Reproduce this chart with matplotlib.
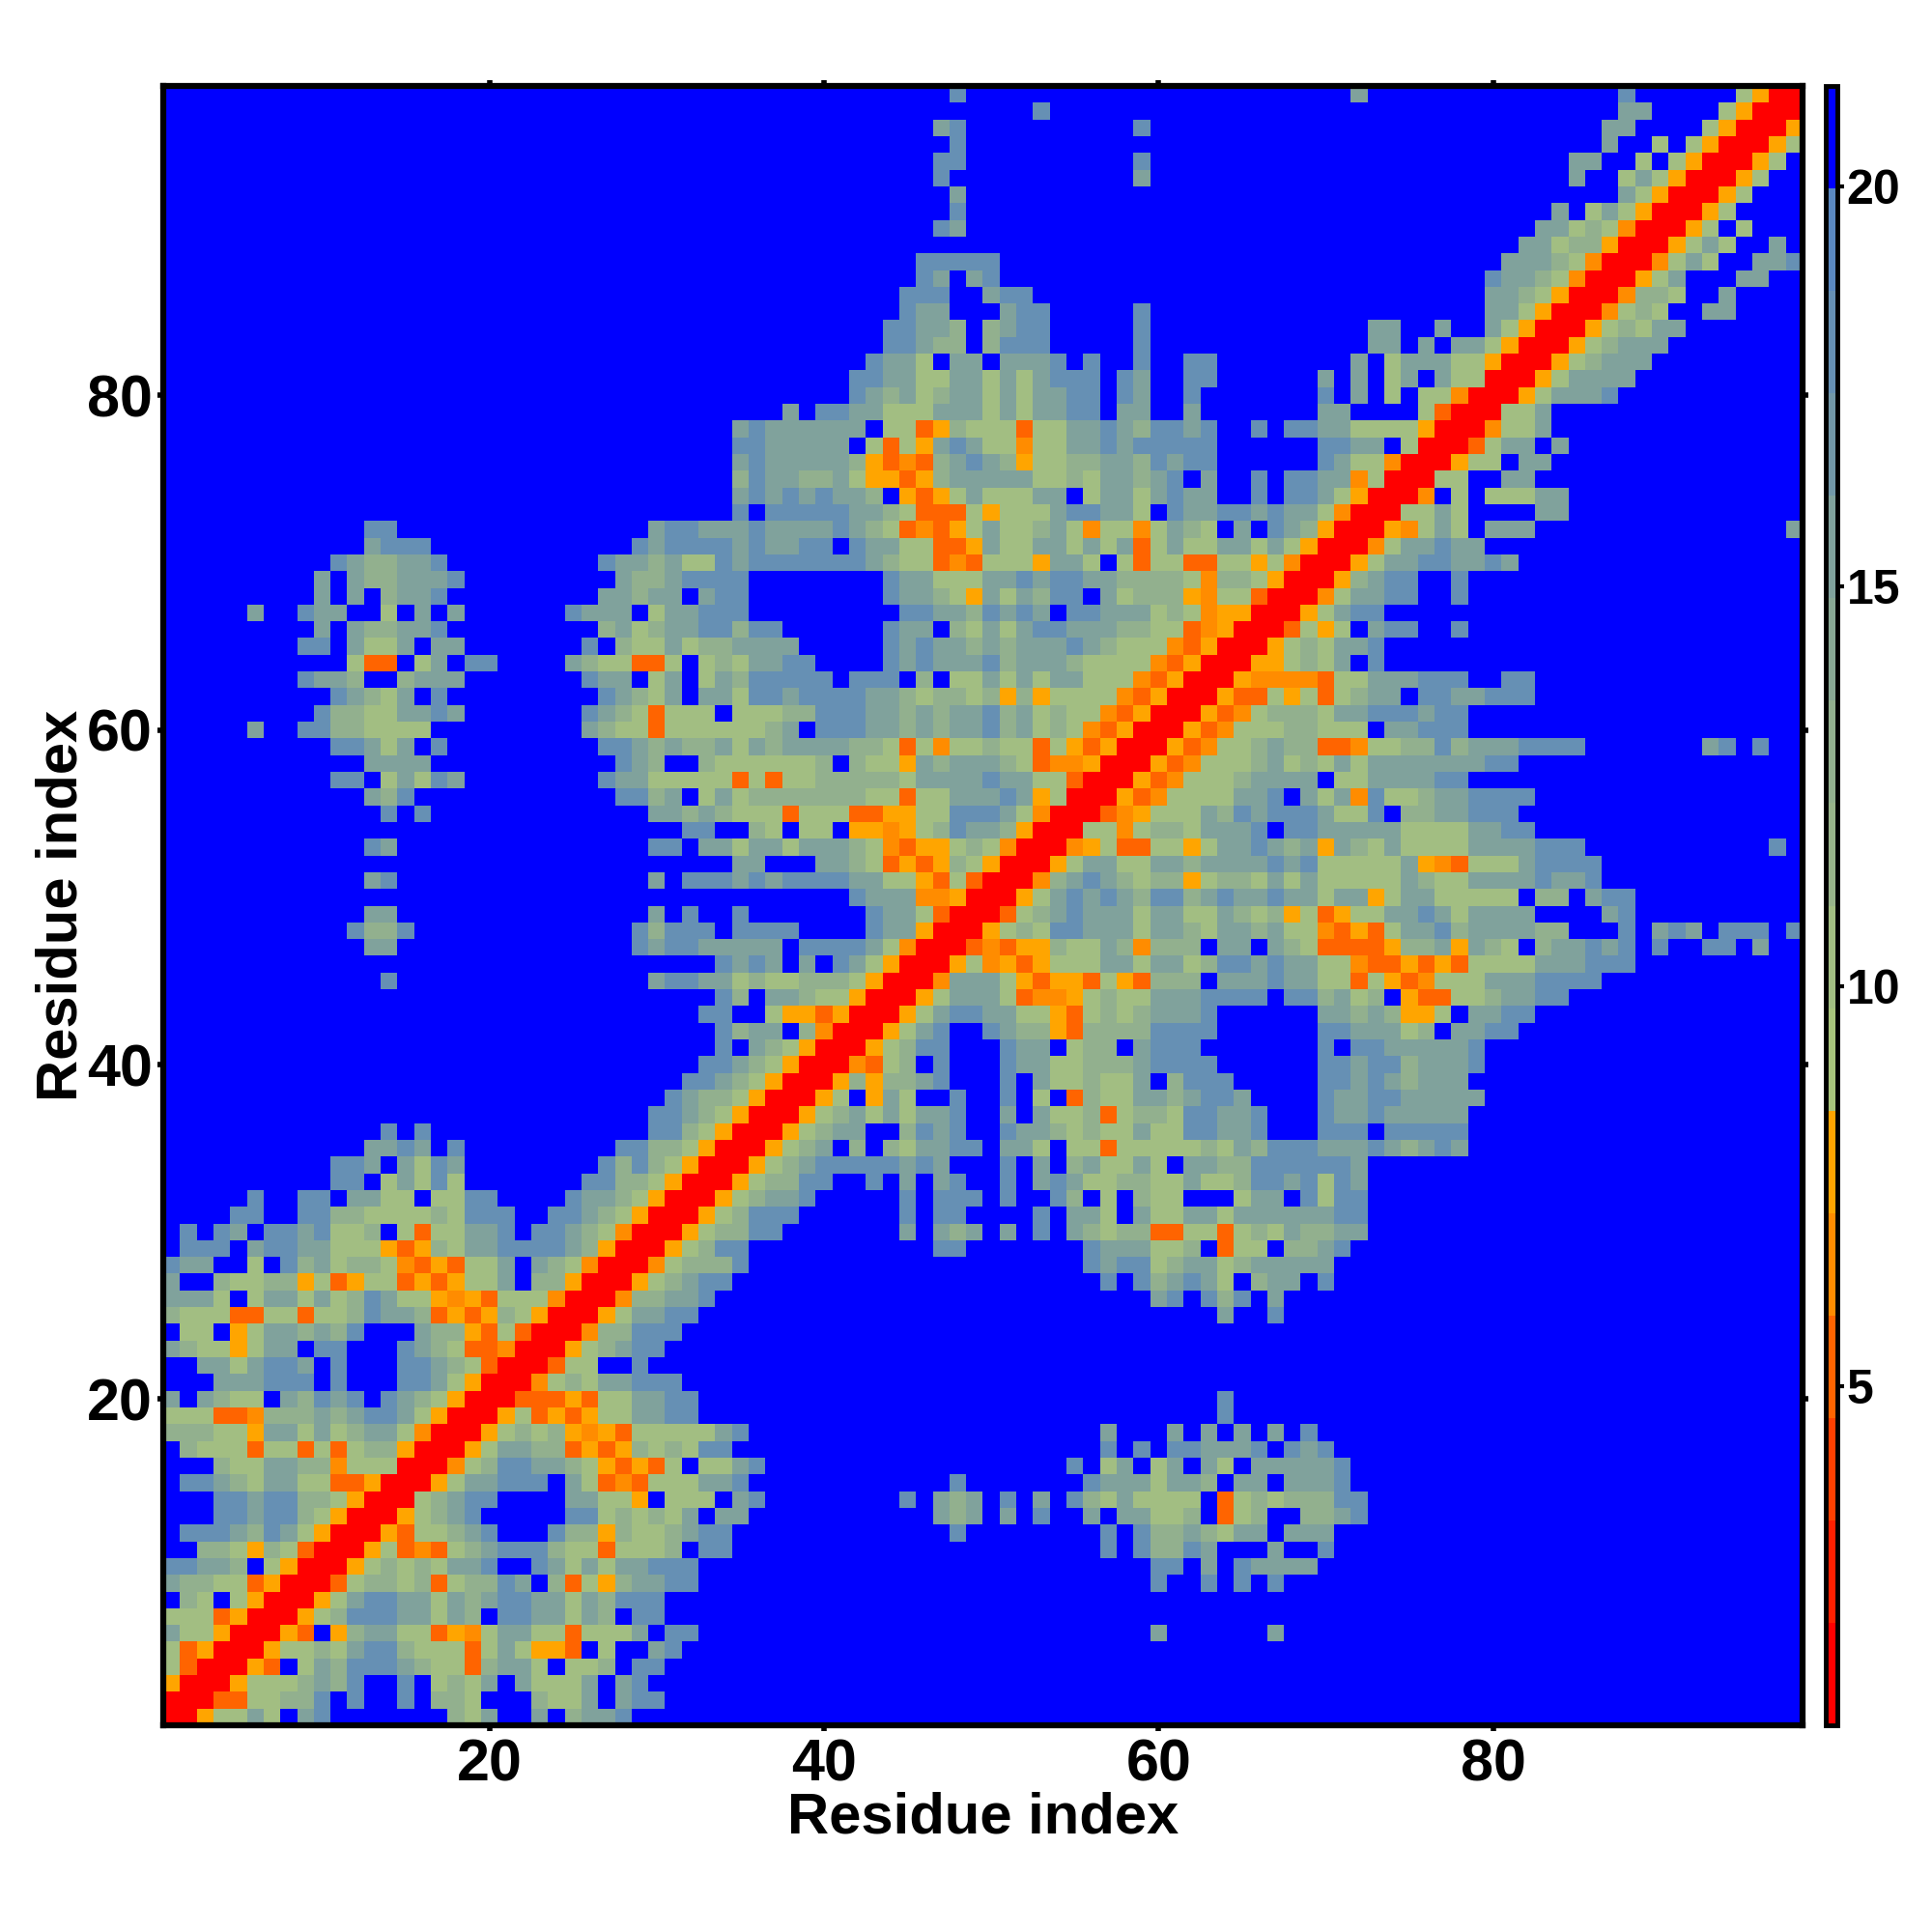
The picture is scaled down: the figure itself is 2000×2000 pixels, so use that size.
import numpy as np
import matplotlib
matplotlib.use("Agg")
import matplotlib.pyplot as plt
from matplotlib.colors import ListedColormap, BoundaryNorm

plt.rcParams['font.family'] = ['Liberation Sans', 'DejaVu Sans']
plt.rcParams['font.weight'] = 'bold'

n_res = 98

# distance classes (. means above the top of the scale)
code_values = {'.': 20.5, 'r': 1.5, 'O': 5.2, 'o': 6.5, 'y': 7.8,
               'g': 10.3, 'h': 12.9, 't': 15.5, 'b': 18.0}

# (row, first column, cells), lower triangle only, the map is symmetric
segments = [
    (1, 1, "r"), (2, 1, "rr"), (3, 1, "yrr"), (4, 1, "gOrr"), (5, 1, "gOyrr"),
    (6, 1, "tggyrr"), (7, 1, "gggOyrr"), (8, 1, ".hg.gyrr"), (9, 1, "thhggOyrr"),
    (10, 1, "bbtth.gyrr"), (11, 1, "..hhgyhgOrr"), (12, 1, ".bbbthbtgyrr"),
    (13, 1, "...bbtbbhgyrr"), (14, 1, "...bbtbbhhgyrr"), (15, 1, ".bbthgttggOOyrr"),
    (16, 1, "...hggtthhogggrr"), (17, 1, ".hgggOggOgOghhyrr"),
    (18, 1, "hhhggyttgtghttgorr"), (19, 1, "gggOOohhhthtbbtgyrr"),
    (20, 1, "t.thgg.thbtb.bthgyrr"), (21, 1, "...tttbbb.b...bbtgyrr"),
    (22, 1, "..ttgtbbt.b...bbthgOrr"), (23, 1, "thggygtt.bb...bthgOOorr"),
    (24, 1, ".gg.ygtththb...thhyOgOrr"), (25, 1, "hgggOOggOgghbtthOyOyhgyrr"),
    (26, 1, "tttg.gttgtghbtggyoyOgggorr"), (27, 1, "t..hgghhygOyggOyOyggt.hhyrr"),
    (28, 1, "btt..g.bhtghhgoOyOggt.thgorr"), (29, 1, ".bbb.tbbttgggyOyhgttbbbbthyrr"),
    (30, 1, ".b.bt.bbtbggh.gOggttb.bbthgorr"), (31, 1, "....bb..bbhhgggghgbbb..bbthgyrr"),
    (32, 1, ".....b..bb.ttgg.ggbb....btthgyrr"), (33, 1, "..........bb.gtgbg.......bbhhgyrr"),
    (34, 1, "..........bbt.tgbt........bhbhgyrr"),
    (35, 1, "............ttbt.b.........bbhhgyrr"),
    (36, 1, ".............b.b.............bbhgyrr"),
    (37, 30, "bbthgyrr"), (38, 31, "bthhgyrr"), (39, 32, "bbthgyrr"), (40, 33, "bbthgyrr"),
    (41, 34, "b.thgyrr"), (42, 34, "bhtt.horr"), (43, 33, "bb..gyyOyrr"),
    (44, 34, "bh.tthggyrr"), (45, 14, "b"), (45, 30, "tbbttghgghhhgyrr"),
    (46, 34, "btbt.t.btgyrr"), (47, 13, "tt"), (47, 29, "btbbttttt.bbbbtgorr"),
    (48, 12, "bhhb"), (48, 29, "bhbbb.bbbb....bttyrr"), (49, 13, "tt"),
    (49, 30, "t.b..b.......bttgOrr"), (50, 42, "btttooyrr"), (51, 13, "tb"),
    (51, 30, "t.bbbtbtbbbbttggyOgOrr"), (52, 35, "tt...tthgOyOyhgyrr"), (53, 13, "bt"),
    (53, 30, "bb.ttgttgttthgoOyyghgorr"), (54, 32, "bb..hg.gg.yyoyghbtthyrr"),
    (55, 14, "b.b"), (55, 30, "tththgggOgggOOyyggbbbtgorr"), (56, 13, "thb"),
    (56, 28, "bbht.gtghhhhhhhggOggtttbtygrr"), (57, 11, "bb.gtgbt"),
    (57, 27, "bttgggggOgOgghhhhhgttttbttggOrr"), (58, 13, "tttt"),
    (58, 28, "bth..hggggggh.hggythttthgOooyrr"), (59, 11, "bbtgt.b"),
    (59, 27, "bbththhtgthtttthhgOgogghggOgyOyrr"), (60, 6, "t"), (60, 9, "bbhhgggg"),
    (60, 26, "thggOgggggght.bbbtththttbhtghgoOyrr"), (61, 10, "bhhggttbt"),
    (61, 26, "bthgOggg.ggghhbbbtththttbhtghggoOyrr"), (62, 11, "bthgt.b"),
    (62, 27, "bthgt.ttgbbtbbbbtthghhghyhyggggoOyrr"), (63, 9, "btth..httt"),
    (63, 26, "btt.gt.gthbbbbb.bbb.h.ggtgtgttgggoOyrr"), (64, 12, "gOO.gt.bb"),
    (64, 25, "thggOOg.ghgttbb....btbtttbhttthggggoOyrr"), (65, 9, "bb.tggt.tt"),
    (65, 26, "b.hggtghhtttt.....btbtththtttbthgggoOyrr"), (66, 10, "t.thhttb"),
    (66, 27, "htghttbbhbb......btt.hgtgtbbttthhggOoyrr"), (67, 6, "t"), (67, 9, "btt..g.t.t"),
    (67, 25, "bttt.gttbbb.........bbtthbtbt.bbtttghgoyyrr"), (68, 10, "t.t.httb"),
    (68, 27, "tthtt.tbb........btthgytgthbb.tghhhyoggOrr"), (69, 10, "t.thhtttb"),
    (69, 28, "thhtbbbb........bttgggttbtbbtthhhhgohhgyrr"), (70, 11, "bthhttb"),
    (70, 27, "btthtggbtbbbbbbbthggOoOgggyttg.gOggOOggygorr"), (71, 13, "tbbb"),
    (71, 29, "btbbbbtbttbb.bttggOOytggttgtgtOgtggttgtgyrr"), (72, 13, "bb"),
    (72, 30, "tbbtttbttttbthgOoOygtgghtgoggogthg.t.bthyrr"),
    (73, 35, "b.bbbbbtthgOOOgygggtbbttg.bttbbtbttgorr"),
    (74, 35, "tbtbtbtth.yOygtgggtt.gttgtbtt..b.bbtgyrr"),
    (75, 35, "hbtthhtgyyOyhtttttgghgtthtb.t..b.bbttogrr"),
    (76, 35, "tbttttthyOoOhtbthygghhtthbtbb......btggorr"),
    (77, 35, "bbttttt.gOgytbtggoggttbtbbbbb......bbtt.grr"),
    (78, 35, "tbtttttt.ggOyhgggOggttbthbbtb..b.bbttggggyrr"),
    (79, 38, "t.bbttgggtttgtgttbb.tt..t.......tt....gOrr"),
    (80, 42, "bthtghttgtgttbb.bt..b.......b.t.g.ggorr"),
    (81, 42, "bbttggttgtgtbbb.bt..bb......t.t.gt.tggrr"),
    (82, 43, "bttg.tt.tttb.b..b..bb........t.gtttggyrr"),
    (83, 44, "bbthh.hbbb"), (83, 59, "b"), (83, 73, "tt.t.ttgyrr"),
    (84, 44, "bbtth.htbb"), (84, 59, "b"), (84, 73, "tt..t..tgyrr"),
    (85, 45, "btt"), (85, 51, "tbb"), (85, 59, "b"), (85, 80, "ttgyrr"),
    (86, 45, "bbb"), (86, 50, "tbb"), (86, 80, "tthgyrr"),
    (87, 46, "bt.tb"), (87, 80, "btthgorr"),
    (88, 46, "bbbbb"), (88, 81, "ttthgorr"), (89, 82, "ttghhyrr"),
    (90, 47, "bt"), (90, 83, "ttghgorr"), (91, 48, "b"), (91, 84, "t.gtgyrr"),
    (92, 48, "t"), (92, 88, "tgyrr"), (93, 47, "b"), (93, 59, "t"), (93, 85, "t..gtgyrr"),
    (94, 47, "bb"), (94, 59, "b"), (94, 85, "tt..g.gyrr"), (95, 48, "b"), (95, 87, "t..g.gyrr"),
    (96, 47, "tb"), (96, 59, "b"), (96, 87, "tt....gyrr"), (97, 53, "b"), (97, 88, "tt....gyrr"),
    (98, 48, "b"), (98, 72, "t"), (98, 88, "b"), (98, 95, "gyrr"),
]

band_colors = ['#ff0000', '#ff2000', '#ff4000', '#ff6400', '#ff8c00', '#ffa500',
               '#a8c47c', '#a2be82', '#98b48a', '#92b08e', '#88a894', '#80a29c',
               '#7298a8', '#6690b4', '#5a88c0', '#0000ff']
band_edges = 0.77 + 1.28 * np.arange(17)
ticks = [20, 40, 60, 80]
cbar_ticks = [5, 10, 15, 20]

dist = np.full((n_res, n_res), code_values['.'])
for row, col, cells in segments:
    for k, ch in enumerate(cells):
        dist[row - 1, col - 1 + k] = code_values[ch]
        dist[col - 1 + k, row - 1] = code_values[ch]

cmap = ListedColormap(band_colors)
norm = BoundaryNorm(band_edges, cmap.N)

fig = plt.figure(figsize=(20, 20), dpi=100)
ax = fig.add_axes([169 / 2000, 1 - 1786 / 2000, 1697 / 2000, 1697 / 2000])
im = ax.imshow(dist, origin='lower', cmap=cmap, norm=norm, interpolation='nearest',
               extent=(0.5, n_res + 0.5, 0.5, n_res + 0.5), aspect='auto')
ax.set_xticks(ticks)
ax.set_yticks(ticks)
ax.tick_params(top=True, right=True, length=4, width=4, labelsize=44)
ax.tick_params(axis='x', pad=6)
ax.tick_params(axis='y', pad=4)
ax.set_xlabel("Residue index", fontsize=43, fontweight='bold', labelpad=-2)
ax.set_ylabel("Residue index", fontsize=43, fontweight='bold', labelpad=-1)
for spine in ax.spines.values():
    spine.set_linewidth(4.5)

cax = fig.add_axes([1890 / 2000, 1 - 1786 / 2000, 12 / 2000, 1697 / 2000])
cb = fig.colorbar(im, cax=cax, ticks=cbar_ticks, spacing='proportional')
cb.ax.tick_params(length=5, width=3, labelsize=36, pad=2)
cb.outline.set_linewidth(3.5)
cb.ax.minorticks_off()

plt.savefig("out.png", dpi=100)
plt.close()
